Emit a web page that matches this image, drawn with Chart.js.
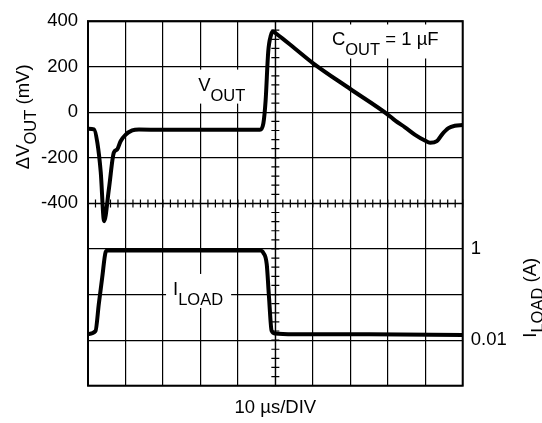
<!DOCTYPE html>
<html>
<head>
<meta charset="utf-8">
<script src="https://cdn.jsdelivr.net/npm/chart.js@4"></script>
<style>
    body { margin: 0; background: #fff; }
    #wrap { width: 542px; height: 423px; }
</style>
</head>
<body>
<div id="wrap"><canvas id="loadChart"></canvas></div>
<script>
// ===== Data =====
const vOutTime = [0, 1.6, 2.5, 3.4, 4.3, 5.6, 6.9, 7.8, 8.7, 10, 11.8, 13.6, 20, 30, 40, 45.9, 46.8, 47.4, 48.1, 48.8, 49.4, 50.3, 55.2, 60, 70, 80, 82, 84.6, 87.3, 89.9, 91.3, 93.1, 94.4, 96.2, 97.9, 100];
const vOutMv = [-72, -75, -134, -263, -478, -334, -177, -163, -127, -99, -80, -76, -77, -77, -77, -77, -49, 51, 266, 337, 354, 344, 280, 216, 102, -10, -37, -66, -99, -124, -134, -127, -99, -70, -59, -56];

const iLoadTime = [0, 2.0, 2.9, 3.8, 4.7, 5.2, 20, 40, 46, 46.8, 47.7, 48.3, 49.0, 49.9, 55, 75, 100];
const iLoadAmps = [0.0135, 0.0158, 0.064, 0.239, 0.85, 0.93, 0.93, 0.93, 0.93, 0.82, 0.46, 0.089, 0.016, 0.014, 0.0135, 0.0135, 0.013];

const vOutTicks = [400, 200, 0, -200, -400];
const iLoadTicks = [1, 0.01];

const FONT = '"Liberation Sans", Arial, sans-serif';
const MAIN = '18.5px ' + FONT;
const SUB = '16.5px ' + FONT;

// ===== Text helpers =====
function drawParts(ctx, parts, x, y, subOff) {
    parts.forEach(p => {
        ctx.font = p.sub ? SUB : MAIN;
        ctx.fillText(p.text, x, p.sub ? y + subOff : y);
        x += ctx.measureText(p.text).width;
    });
    return x;
}

function partsWidth(ctx, parts) {
    let w = 0;
    parts.forEach(p => {
        ctx.font = p.sub ? SUB : MAIN;
        w += ctx.measureText(p.text).width;
    });
    return w;
}

// label with a white box behind it, so the grid is broken there
function boxedLabel(ctx, parts, x, y) {
    const w = partsWidth(ctx, parts);
    ctx.fillStyle = '#fff';
    ctx.fillRect(x - 7, y - 21, w + 15, 34);
    ctx.fillStyle = '#000';
    drawParts(ctx, parts, x, y, 10);
}

function rotatedTitle(ctx, parts, x, y) {
    const w = partsWidth(ctx, parts);
    ctx.save();
    ctx.translate(x, y);
    ctx.rotate(-Math.PI / 2);
    drawParts(ctx, parts, -w / 2, 0, 7);
    ctx.restore();
}

// ===== Scope decorations =====
const scopePlugin = {
    id: 'scope',
    beforeDatasetsDraw(chart) {
        const { ctx, chartArea: a, scales } = chart;
        const x = scales.x, y = scales.y, y2 = scales.y2;
        ctx.save();
        ctx.strokeStyle = '#000';
        ctx.fillStyle = '#000';

        // centre crosshair with minor ticks
        const cx = x.getPixelForValue(50);
        const cy = y.getPixelForValue(-400);
        ctx.lineWidth = 1.2;
        ctx.beginPath();
        ctx.moveTo(cx, a.top); ctx.lineTo(cx, a.bottom);
        ctx.moveTo(a.left, cy); ctx.lineTo(a.right, cy);
        for (let v = y.min; v <= y.max; v += 40) {
            const py = y.getPixelForValue(v);
            ctx.moveTo(cx - 4, py); ctx.lineTo(cx + 4, py);
        }
        for (let t = x.min; t <= x.max; t += 2) {
            const px = x.getPixelForValue(t);
            ctx.moveTo(px, cy - 4); ctx.lineTo(px, cy + 4);
        }
        ctx.stroke();

        // frame
        ctx.lineWidth = 2;
        ctx.strokeRect(a.left, a.top, a.right - a.left, a.bottom - a.top);

        // labels in the plot
        ctx.textBaseline = 'alphabetic';
        ctx.textAlign = 'left';
        boxedLabel(ctx, [{ text: 'V' }, { text: 'OUT', sub: true }], x.getPixelForValue(29.4), y.getPixelForValue(95));
        boxedLabel(ctx, [{ text: 'C' }, { text: 'OUT', sub: true }, { text: ' = 1 µF' }], x.getPixelForValue(65.1), y.getPixelForValue(293));
        boxedLabel(ctx, [{ text: 'I' }, { text: 'LOAD', sub: true }], x.getPixelForValue(22.7), y2.getPixelForValue(0.098));

        // axis titles
        rotatedTitle(ctx, [{ text: 'ΔV' }, { text: 'OUT', sub: true }, { text: ' (mV)' }], 29, y.getPixelForValue(-20));
        rotatedTitle(ctx, [{ text: 'I' }, { text: 'LOAD', sub: true }, { text: ' (A)' }], 536, y2.getPixelForValue(0.085));

        ctx.font = MAIN;
        ctx.textAlign = 'center';
        ctx.fillText('10 µs/DIV', x.getPixelForValue(50), 413);
        ctx.restore();
    }
};

// ===== Chart =====
Chart.defaults.color = '#000';
Chart.defaults.font.family = FONT;
Chart.defaults.font.size = 18.5;

const ctx = document.getElementById('loadChart').getContext('2d');
new Chart(ctx, {
    type: 'line',
    data: {
        datasets: [{
            label: 'VOUT',
            data: vOutTime.map((t, i) => ({ x: t, y: vOutMv[i] })),
            yAxisID: 'y',
            borderColor: '#000',
            borderWidth: 4,
            pointRadius: 0,
            cubicInterpolationMode: 'monotone',
            borderJoinStyle: 'round',
            borderCapStyle: 'round'
        }, {
            label: 'ILOAD',
            data: iLoadTime.map((t, i) => ({ x: t, y: iLoadAmps[i] })),
            yAxisID: 'y2',
            borderColor: '#000',
            borderWidth: 4,
            pointRadius: 0,
            cubicInterpolationMode: 'monotone',
            borderJoinStyle: 'round',
            borderCapStyle: 'round'
        }]
    },
    options: {
        responsive: true,
        maintainAspectRatio: false,
        animation: false,
        layout: { padding: { top: 12, left: 0, right: 0, bottom: 0 } },
        plugins: {
            legend: { display: false },
            tooltip: { enabled: false }
        },
        scales: {
            x: {
                type: 'linear',
                min: 0,
                max: 100,
                ticks: { display: false, stepSize: 10 },
                grid: { color: '#000', lineWidth: 1.2, drawTicks: false },
                border: { display: false },
                afterFit: s => { s.height = 37.3; }
            },
            y: {
                type: 'linear',
                position: 'left',
                min: -1200,
                max: 400,
                ticks: {
                    stepSize: 200,
                    padding: 10,
                    callback: v => vOutTicks.includes(v) ? String(v) : ''
                },
                grid: { color: '#000', lineWidth: 1.2, drawTicks: false },
                border: { display: false },
                afterFit: s => { s.width = 88; }
            },
            y2: {
                type: 'logarithmic',
                position: 'right',
                min: 0.001,
                max: 100000,
                afterBuildTicks: s => { s.ticks = iLoadTicks.map(v => ({ value: v })); },
                ticks: {
                    padding: 8,
                    callback: v => String(v)
                },
                grid: { display: false, drawTicks: false },
                border: { display: false },
                afterFit: s => { s.width = 79.3; }
            }
        }
    },
    plugins: [scopePlugin]
});
</script>
</body>
</html>
